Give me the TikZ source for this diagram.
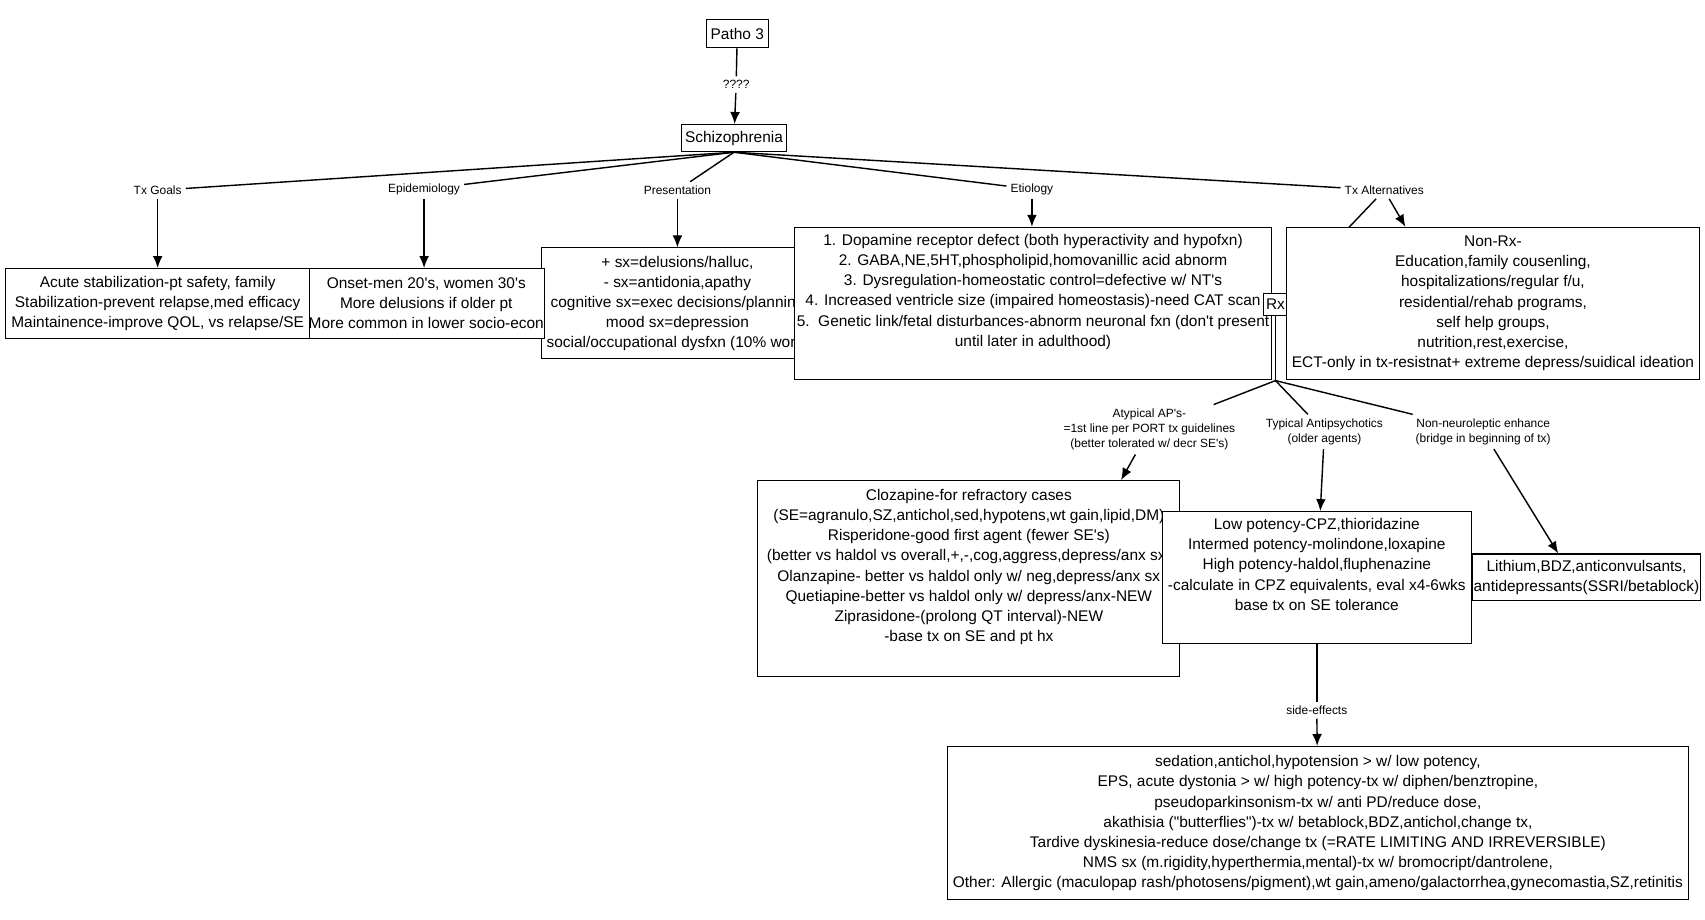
\documentclass[tikz,border=0pt]{standalone}
\usepackage{fontspec}
\setmainfont{Liberation Sans}[Ligatures=TeXOff]
\usetikzlibrary{arrows.meta,backgrounds}
\tikzset{>={Latex[length=11pt, width=9pt]}}
\tikzset{box/.style={draw, fill=white, align=center, inner sep=1pt, font=\fontsize{14.2}{18.5}\selectfont}}
\tikzset{link/.style={align=center, font=\fontsize{11}{14}\selectfont}}

\begin{document}
\begin{tikzpicture}[x=1pt, y=-1pt, line width=1pt]

\useasboundingbox (0, 0) rectangle (1568, 846);

\node[box, minimum width=57, minimum height=26] (patho) at (678, 31) {Patho 3};
\node[link] (qq) at (677, 78) {????};
\node[box, minimum width=97, minimum height=25] (schiz) at (675, 127) {Schizophrenia};

\node[link] (goalslbl) at (145, 175) {Tx Goals};
\node[link] (epilbl) at (390, 174) {Epidemiology};
\node[link] (preslbl) at (623, 175) {Presentation};
\node[link] (etiolbl) at (949, 174) {Etiology};
\node[link] (altlbl) at (1273, 175) {Tx Alternatives};

\node[box, minimum width=250, minimum height=102] (pres) at (623, 279) {+ sx=delusions/halluc,\\- sx=antidonia,apathy\\cognitive sx=exec decisions/planning\\mood sx=depression\\social/occupational dysfxn (10\% work)};
\node[box, minimum width=217, minimum height=64] (epi) at (392, 279) {Onset-men 20's, women 30's\\More delusions if older pt\\More common in lower socio-econ};
\node[box, minimum width=280, minimum height=64] (goals) at (145, 279) {Acute stabilization-pt safety, family\\Stabilization-prevent relapse,med efficacy\\Maintainence-improve QOL, vs relapse/SE};
\node[box, minimum width=439, minimum height=140] (etio) at (950, 279) {1. Dopamine receptor defect (both hyperactivity and hypofxn)\\2. GABA,NE,5HT,phospholipid,homovanillic acid abnorm\\3. Dysregulation-homeostatic control=defective w/ NT's\\4. Increased ventricle size (impaired homeostasis)-need CAT scan\\5.\ \ Genetic link/fetal disturbances-abnorm neuronal fxn (don't present\\until later in adulthood)\\ \strut};
\node[box, minimum width=22, minimum height=20] (rx) at (1173, 280) {Rx};
\node[box, minimum width=380, minimum height=140] (nonrx) at (1373, 279) {Non-Rx-\\Education,family cousenling,\\hospitalizations/regular f/u,\\residential/rehab programs,\\self help groups,\\nutrition,rest,exercise,\\ECT-only in tx-resistnat+ extreme depress/suidical ideation};

\coordinate (rxfork) at (1173, 350);
\node[link] (atyplbl) at (1057, 395) {Atypical AP's-\\=1st line per PORT tx guidelines\\(better tolerated w/ decr SE's)};
\node[link] (typlbl) at (1218, 397) {Typical Antipsychotics\\(older agents)};
\node[link] (nonneulbl) at (1364, 397) {Non-neuroleptic enhance\\(bridge in beginning of tx)};

\node[box, minimum width=388, minimum height=180] (cloz) at (891, 532) {Clozapine-for refractory cases\\(SE=agranulo,SZ,antichol,sed,hypotens,wt gain,lipid,DM)\\Risperidone-good first agent (fewer SE's)\\(better vs haldol vs overall,+,-,cog,aggress,depress/anx sx)\\Olanzapine- better vs haldol only w/ neg,depress/anx sx\\Quetiapine-better vs haldol only w/ depress/anx-NEW\\Ziprasidone-(prolong QT interval)-NEW\\-base tx on SE and pt hx\\ \strut};
\node[box, minimum width=284, minimum height=121] (lowpot) at (1211, 531) {Low potency-CPZ,thioridazine\\Intermed potency-molindone,loxapine\\High potency-haldol,fluphenazine\\-calculate in CPZ equivalents, eval x4-6wks\\base tx on SE tolerance\\ \strut};
\node[box, minimum width=204, minimum height=43] (lith) at (1459, 531) {Lithium,BDZ,anticonvulsants,\\antidepressants(SSRI/betablock)};

\node[link] (selbl) at (1211, 653) {side-effects};
\node[box, minimum width=681, minimum height=141] (sebox) at (1212, 757) {sedation,antichol,hypotension > w/ low potency,\\EPS, acute dystonia > w/ high potency-tx w/ diphen/benztropine,\\pseudoparkinsonism-tx w/ anti PD/reduce dose,\\akathisia ("butterflies")-tx w/ betablock,BDZ,antichol,change tx,\\Tardive dyskinesia-reduce dose/change tx (=RATE LIMITING AND IRREVERSIBLE)\\NMS sx (m.rigidity,hyperthermia,mental)-tx w/ bromocript/dantrolene,\\Other: Allergic (maculopap rash/photosens/pigment),wt gain,ameno/galactorrhea,gynecomastia,SZ,retinitis};

\begin{pgfonlayer}{background}
\begin{scope}[line width=1.3pt]
\draw (patho) -- (qq);
\draw[->] (qq) -- (schiz);
\draw (schiz.south) -- (goalslbl);
\draw (schiz.south) -- (epilbl);
\draw (schiz.south) -- (preslbl);
\draw (schiz.south) -- (etiolbl);
\draw (schiz.south) -- (altlbl);
\draw[->] (goalslbl) -- (goalslbl |- goals.north);
\draw[->] (epilbl) -- (epilbl |- epi.north);
\draw[->] (preslbl) -- (preslbl |- pres.north);
\draw[->] (etiolbl) -- (etiolbl |- etio.north);
\draw (altlbl) -- (rx);
\draw[->] (altlbl) -- ([xshift=110]nonrx.north west);
\draw (rx) -- (rxfork);
\draw (rxfork) -- (atyplbl);
\draw (rxfork) -- (typlbl);
\draw (rxfork) -- (nonneulbl);
\draw[->] (atyplbl) -- ([xshift=140]cloz.north);
\draw[->] (typlbl) -- (lowpot);
\draw[->] (nonneulbl) -- ([xshift=-26]lith.north);
\draw (lowpot) -- (selbl);
\draw[->] (selbl) -- (sebox);
\end{scope}
\end{pgfonlayer}

\end{tikzpicture}
\end{document}
